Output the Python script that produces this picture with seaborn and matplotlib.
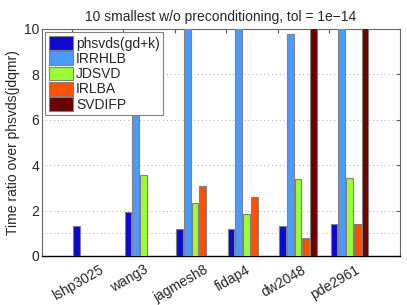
import numpy as np
import pandas as pd
import matplotlib
matplotlib.use("Agg")
import matplotlib.pyplot as plt
import matplotlib.transforms as mtransforms
import seaborn as sns

matrices = ["lshp3025", "wang3", "jagmesh8", "fidap4", "dw2048", "pde2961"]
methods = ["phsvds(gd+k)", "IRRHLB", "JDSVD", "IRLBA", "SVDIFP"]
phsvds = [1.3, 1.95, 1.2, 1.2, 1.3, 1.4]
irrhlb = [np.nan, 6.5, 15.0, 15.0, 9.78, 15.0]
jdsvd = [np.nan, 3.55, 2.35, 1.85, 3.4, 3.45]
irlba = [np.nan, np.nan, 3.1, 2.6, 0.8, 1.4]
svdifp = [np.nan, np.nan, np.nan, np.nan, 15.0, 15.0]
colors = ["#0a0ad0", "#4a9bff", "#99ff33", "#ff5000", "#6b0000"]
yticks = [0, 2, 4, 6, 8, 10]

series = [phsvds, irrhlb, jdsvd, irlba, svdifp]
rows = []
for m, vals in zip(methods, series):
    for mat, v in zip(matrices, vals):
        rows.append({"matrix": mat, "method": m, "ratio": v})
df = pd.DataFrame(rows)

sns.set_style("white")
plt.rcParams["font.family"] = ["Liberation Sans", "DejaVu Sans"]
plt.rcParams["font.size"] = 10

fig = plt.figure(figsize=(4.07, 3.05), dpi=100)
ax = fig.add_axes([0.103, 0.161, 0.880, 0.744])

sns.barplot(data=df, x="matrix", y="ratio", hue="method", order=matrices,
            hue_order=methods, palette=colors, saturation=1, width=0.75, gap=0.133,
            edgecolor="#808080", linewidth=0.8, errorbar=None, ax=ax,
            zorder=3)

ax.set_ylim(0, 10)
ax.set_xlim(-0.97, 5.98)
ax.set_yticks(yticks)
ax.set_yticklabels([str(t) for t in yticks], fontsize=10)
for t in yticks[1:]:
    ax.axhline(t, color="#b0b0b0", linestyle=(0, (1, 3)), linewidth=0.7, zorder=1)
ax.axhline(1, color="#ff9999", linestyle=(0, (1, 3)), linewidth=0.7, zorder=1)

ax.set_xticks(np.arange(len(matrices)) - 0.39)
ax.set_xticklabels(matrices, rotation=30, ha="center", va="top", fontsize=10)
ax.tick_params(axis="both", direction="in", length=3, top=True, right=True,
               color="#555555", pad=2)
ax.tick_params(axis="x", pad=5)
offset = mtransforms.ScaledTranslation(6 / 100, 0, fig.dpi_scale_trans)
for lab in ax.get_xticklabels():
    lab.set_transform(lab.get_transform() + offset)
ax.set_xlabel("")
ax.set_ylabel("Time ratio over phsvds(jdqmr)", fontsize=10, labelpad=3)
ax.set_title("10 smallest w/o preconditioning, tol = 1e\u221214", fontsize=10, pad=6)

for s in ["left", "top", "right"]:
    ax.spines[s].set_color("#666666")
    ax.spines[s].set_linewidth(0.8)
ax.spines["bottom"].set_color("black")
ax.spines["bottom"].set_linewidth(1.0)

leg = ax.legend(loc="upper left", frameon=True, fancybox=False, fontsize=10,
                handlelength=1.75, handleheight=1.15, handletextpad=0.2,
                labelspacing=0.05, borderpad=0.25, borderaxespad=0.25,
                framealpha=1)
leg.get_frame().set_edgecolor("#808080")
leg.get_frame().set_linewidth(0.8)
leg.set_zorder(5)

fig.savefig("out.png", dpi=100)
